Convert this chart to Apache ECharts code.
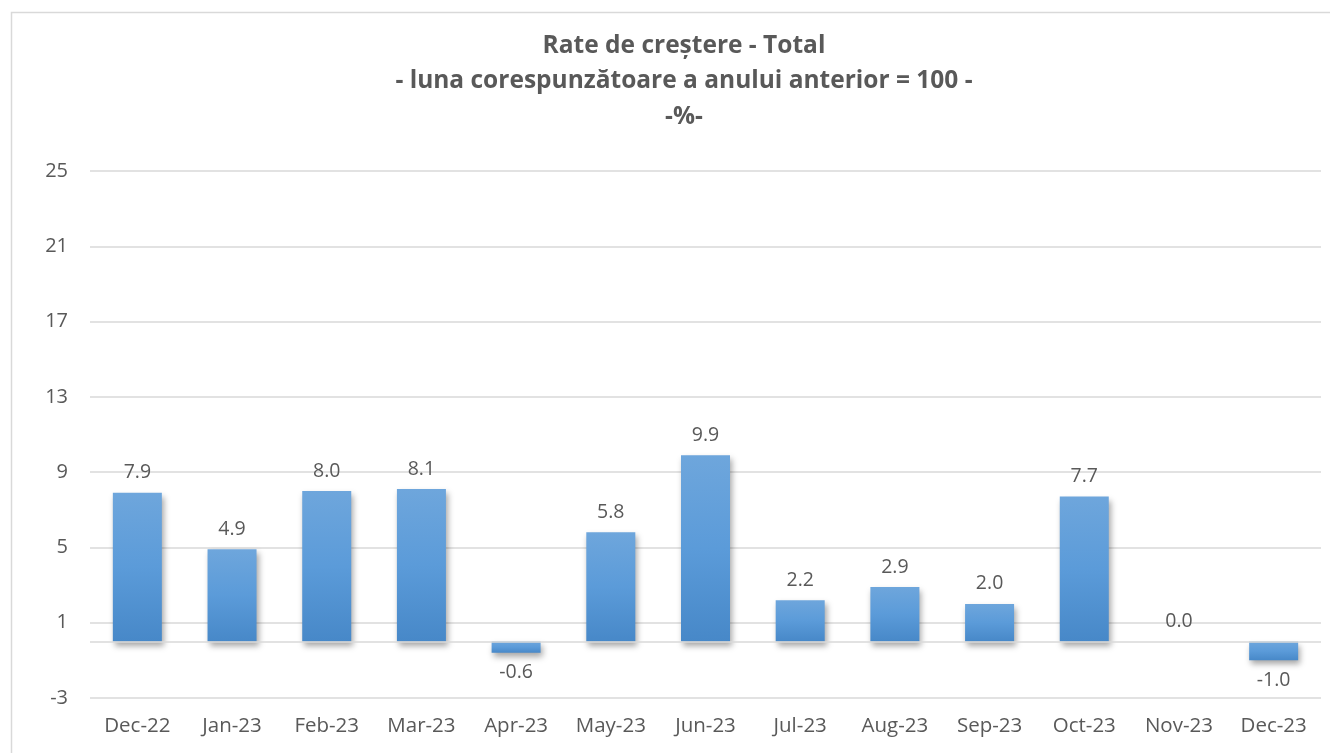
<!DOCTYPE html>
<html>
<head>
<meta charset="utf-8">
<script src="https://cdn.jsdelivr.net/npm/echarts@6/dist/echarts.min.js"></script>
<style>
  html, body { margin: 0; padding: 0; background: #fff; }
  #chart { width: 1330px; height: 753px; }
</style>
</head>
<body>
<div id="chart"></div>
<script>
// date
const luni = ['Dec-22', 'Jan-23', 'Feb-23', 'Mar-23', 'Apr-23', 'May-23', 'Jun-23',
              'Jul-23', 'Aug-23', 'Sep-23', 'Oct-23', 'Nov-23', 'Dec-23'];
const rate = [7.9, 4.9, 8.0, 8.1, -0.6, 5.8, 9.9, 2.2, 2.9, 2.0, 7.7, 0.0, -1.0];

const titlu = 'Rate de creștere - Total\n- luna corespunzătoare a anului anterior = 100 -\n-%-';

const font = '"Open Sans", Lato, sans-serif';
const gri = '#595959';

let chart = echarts.init(document.getElementById('chart'));

let option = {
    animation: false,
    textStyle: { fontFamily: font },
    graphic: [{
        type: 'rect',
        silent: true,
        shape: { x: 11.5, y: 12.5, width: 1400, height: 800 },
        style: { fill: 'none', stroke: '#d9d9d9', lineWidth: 1.5 }
    }],
    title: {
        text: titlu,
        left: 679,
        top: 23,
        textAlign: 'center',
        textStyle: {
            fontFamily: font,
            fontSize: 24.5,
            fontWeight: 'bold',
            color: gri,
            lineHeight: 35.5
        }
    },
    grid: {
        left: 90,
        right: 9,
        top: 171,
        bottom: 55,
        containLabel: false
    },
    xAxis: {
        type: 'category',
        data: luni,
        axisLine: { show: false, onZero: false },
        axisTick: { show: false },
        axisLabel: {
            color: gri,
            fontSize: 20.5,
            margin: 18
        }
    },
    yAxis: {
        type: 'value',
        min: -3,
        max: 25,
        interval: 4,
        axisLine: { show: false },
        axisTick: { show: false },
        axisLabel: {
            color: gri,
            fontSize: 20,
            margin: 22
        },
        splitLine: { lineStyle: { color: '#d9d9d9', width: 1.5 } }
    },
    series: [{
        type: 'bar',
        barWidth: 49,
        data: rate.map(v => ({
            value: v,
            label: { position: v < 0 ? 'bottom' : 'top' }
        })),
        itemStyle: {
            color: new echarts.graphic.LinearGradient(0, 0, 0, 1, [
                { offset: 0, color: '#6ea6dc' },
                { offset: 0.5, color: '#5b9bd9' },
                { offset: 1, color: '#4788c8' }
            ]),
            shadowBlur: 6,
            shadowColor: 'rgba(0,0,0,0.35)',
            shadowOffsetX: 2,
            shadowOffsetY: 4
        },
        label: {
            show: true,
            distance: 10,
            color: gri,
            fontSize: 19.5,
            formatter: p => p.value.toFixed(1)
        },
        markLine: {
            silent: true,
            symbol: 'none',
            label: { show: false },
            lineStyle: { color: '#d9d9d9', type: 'solid', width: 1.5 },
            data: [{ yAxis: 0 }]
        }
    }]
};

chart.setOption(option);
</script>
</body>
</html>
